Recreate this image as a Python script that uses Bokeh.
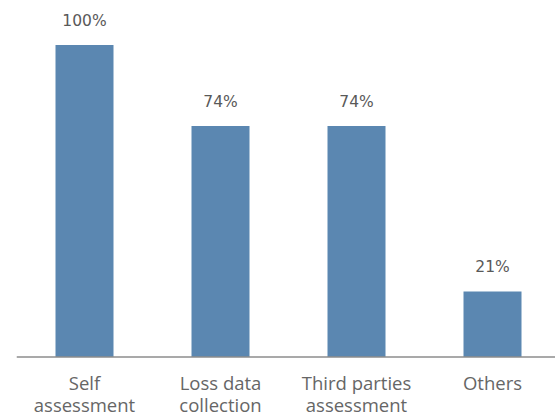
from bokeh.plotting import figure
from bokeh.models import ColumnDataSource, Range1d, Span
from bokeh.embed import file_html
from bokeh.resources import INLINE
from bokeh.core.properties import value

categories = ["Self\nassessment", "Loss data\ncollection", "Third parties\nassessment", "Others"]
values = [100, 74, 74, 21]
labels = ["100%", "74%", "74%", "21%"]

xs = [i + 0.5 for i in range(len(categories))]
line1 = [c.split("\n")[0] for c in categories]
line2 = [c.split("\n")[1] if "\n" in c else "" for c in categories]
src = ColumnDataSource(dict(x=xs, top=values, label=labels, l1=line1, l2=line2,
                            zero=[0] * len(xs)))

p = figure(width=555, height=419, output_backend="svg", toolbar_location=None,
           x_range=Range1d(0, 539 / 136), y_range=Range1d(-20.03, 114.26),
           min_border_left=16, min_border_right=0, min_border_top=0, min_border_bottom=0)
p.xaxis.visible = False
p.yaxis.visible = False
p.xgrid.visible = False
p.ygrid.visible = False
p.outline_line_color = None
p.background_fill_color = "white"
p.border_fill_color = "white"

p.vbar(x="x", top="top", width=58 / 136, bottom=0, source=src,
       fill_color="#5B87B1", line_color=None)
p.add_layout(Span(location=0, dimension="width", line_color="#8c8c8c", line_width=1.5))
p.text(x="x", y="top", text="label", source=src, y_offset=-24,
       text_align="center", text_baseline="alphabetic",
       text_font=value("DejaVu Sans"), text_font_size="15.5px", text_color="#595959")
for col, off in (("l1", 25.5), ("l2", 47.5)):
    p.text(x="x", y="zero", text=col, source=src, y_offset=off,
           text_align="center", text_baseline="alphabetic",
           text_font=value("Open Sans"), text_font_size="18.5px", text_color="#666666")

open("out.html", "w").write(file_html(p, INLINE))
